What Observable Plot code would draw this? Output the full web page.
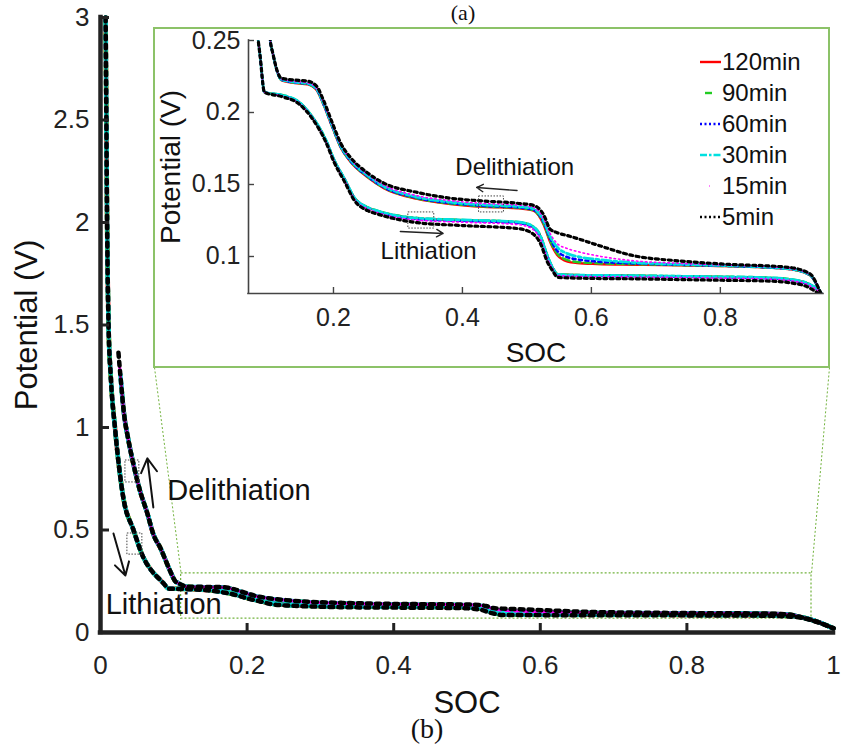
<!DOCTYPE html>
<html>
<head>
<meta charset="utf-8">
<script src="https://cdn.jsdelivr.net/npm/d3@7"></script>
<script src="https://cdn.jsdelivr.net/npm/@observablehq/plot@0.6"></script>
<style>
  body { margin: 0; background: #fff; }
  #fig { position: relative; width: 841px; height: 756px; overflow: hidden; background: #fff;
         font-family: "Liberation Sans", Arial, sans-serif; color: #111; }
  #main { position: absolute; left: 0; top: 0; }
  #inset { position: absolute; left: 153px; top: 27px; width: 677px; height: 341px; box-sizing: border-box;
           border: 2px solid #8cc268; background: #fff; }
  #insetPlot { position: absolute; left: 0; top: 0; }
  #legend { position: absolute; left: 545px; top: 17px; font-size: 24px; line-height: 31px; }
  .lg { display: flex; align-items: center; height: 31px; }
  .lg svg { width: 21px; height: 10px; margin-right: 1px; }
  .cap { position: absolute; font-family: "Liberation Serif", "Times New Roman", serif;
         line-height: 1; transform: translateX(-50%); white-space: nowrap; }
</style>
</head>
<body>
<div id="fig">
  <div class="cap" style="left:463px; top:2px; font-size:22px;">(a)</div>
  <div id="main"></div>
  <div id="inset"><div id="insetPlot"></div><div id="legend"></div></div>
  <div class="cap" style="left:427px; top:715px; font-size:28px;">(b)</div>
</div>
<script>
// ---------------- data ----------------
const seriesNames = ["120min", "90min", "60min", "30min", "15min", "5min"];
const seriesColors = ["#ff0000", "#22cc22", "#0000ff", "#00e0e0", "#ff00ff", "#000000"];

// Lithiation branch (potential falling with SOC)
const lithSOC = [0.007, 0.008, 0.009, 0.011, 0.014, 0.020, 0.031, 0.045, 0.058, 0.070, 0.080, 0.086, 0.093, 0.120, 0.147, 0.167, 0.188, 0.201, 0.218, 0.232, 0.253, 0.268, 0.330, 0.400, 0.485, 0.505, 0.521, 0.532, 0.540, 0.548, 0.598, 0.666, 0.734, 0.803, 0.871, 0.912, 0.939, 0.956, 0.980, 1.000];
const lith120 = [3.00, 2.50, 2.00, 1.50, 1.25, 0.99, 0.66, 0.50, 0.37, 0.30, 0.262, 0.240, 0.214, 0.2120, 0.2070, 0.1970, 0.1810, 0.1670, 0.1530, 0.1410, 0.1340, 0.1315, 0.1265, 0.1252, 0.1238, 0.1218, 0.1140, 0.1000, 0.0920, 0.0875, 0.0868, 0.0866, 0.0862, 0.0858, 0.0852, 0.0838, 0.0805, 0.0745, 0.050, 0.020];
const lith90  = [3.00, 2.50, 2.00, 1.50, 1.25, 0.99, 0.66, 0.50, 0.37, 0.30, 0.262, 0.240, 0.214, 0.2122, 0.2072, 0.1972, 0.1812, 0.1672, 0.1532, 0.1412, 0.1342, 0.1318, 0.1268, 0.1254, 0.1240, 0.1220, 0.1145, 0.1005, 0.0922, 0.0877, 0.0870, 0.0868, 0.0864, 0.0860, 0.0854, 0.0840, 0.0806, 0.0745, 0.050, 0.020];
const lith60  = [3.00, 2.50, 2.00, 1.50, 1.25, 0.99, 0.66, 0.50, 0.37, 0.30, 0.262, 0.240, 0.214, 0.2118, 0.2068, 0.1968, 0.1808, 0.1668, 0.1528, 0.1408, 0.1338, 0.1312, 0.1260, 0.1248, 0.1234, 0.1212, 0.1132, 0.0995, 0.0918, 0.0872, 0.0865, 0.0863, 0.0859, 0.0855, 0.0849, 0.0834, 0.0802, 0.0745, 0.050, 0.020];
const lith30  = [3.00, 2.50, 2.00, 1.50, 1.25, 0.99, 0.66, 0.50, 0.37, 0.30, 0.262, 0.240, 0.214, 0.2121, 0.2071, 0.1971, 0.1811, 0.1671, 0.1531, 0.1411, 0.1341, 0.1317, 0.1266, 0.1254, 0.1240, 0.1220, 0.1142, 0.1002, 0.0921, 0.0876, 0.0869, 0.0867, 0.0863, 0.0859, 0.0853, 0.0839, 0.0806, 0.0745, 0.050, 0.020];
const lith15  = [3.00, 2.50, 2.00, 1.50, 1.25, 0.99, 0.66, 0.50, 0.37, 0.30, 0.262, 0.240, 0.214, 0.2115, 0.2063, 0.1963, 0.1802, 0.1662, 0.1522, 0.1402, 0.1330, 0.1305, 0.1252, 0.1238, 0.1222, 0.1200, 0.1120, 0.0985, 0.0912, 0.0868, 0.0860, 0.0858, 0.0854, 0.0850, 0.0844, 0.0830, 0.0797, 0.0740, 0.049, 0.020];
const lith5   = [3.00, 2.50, 2.00, 1.50, 1.25, 0.99, 0.66, 0.50, 0.37, 0.30, 0.262, 0.240, 0.214, 0.2110, 0.2058, 0.1958, 0.1796, 0.1655, 0.1513, 0.1392, 0.1318, 0.1295, 0.1235, 0.1215, 0.1194, 0.1170, 0.1090, 0.0960, 0.0900, 0.0855, 0.0848, 0.0845, 0.0840, 0.0835, 0.0830, 0.0815, 0.0780, 0.0720, 0.048, 0.020];

// Delithiation branch (upper curve)
const delithSOC = [0.0245, 0.026, 0.027, 0.028, 0.029, 0.030, 0.032, 0.038, 0.045, 0.054, 0.064, 0.072, 0.082, 0.095, 0.102, 0.106, 0.113, 0.119, 0.140, 0.160, 0.174, 0.184, 0.198, 0.212, 0.226, 0.253, 0.278, 0.330, 0.381, 0.433, 0.485, 0.510, 0.526, 0.536, 0.547, 0.563, 0.578, 0.609, 0.666, 0.734, 0.803, 0.905, 0.939, 0.956, 0.980, 1.000];
const delith120 = [null, null, null, null, null, 1.14, 1.07, 0.94, 0.82, 0.69, 0.58, 0.48, 0.41, 0.30, 0.250, 0.241, 0.228, 0.2225, 0.2205, 0.2195, 0.2155, 0.2060, 0.1900, 0.1750, 0.1660, 0.1550, 0.1475, 0.1400, 0.1365, 0.1345, 0.1335, 0.1318, 0.1220, 0.1100, 0.1010, 0.0965, 0.0955, 0.0948, 0.0943, 0.0938, 0.0933, 0.0913, 0.0870, 0.0745, 0.050, 0.020];
const delith90  = [null, null, null, null, 1.18, 1.14, 1.07, 0.94, 0.82, 0.69, 0.58, 0.48, 0.41, 0.30, 0.250, 0.241, 0.228, 0.2227, 0.2207, 0.2197, 0.2157, 0.2063, 0.1903, 0.1753, 0.1663, 0.1553, 0.1478, 0.1403, 0.1368, 0.1348, 0.1338, 0.1321, 0.1228, 0.1110, 0.1020, 0.0975, 0.0962, 0.0953, 0.0947, 0.0940, 0.0934, 0.0914, 0.0870, 0.0745, 0.050, 0.020];
const delith60  = [null, null, null, 1.22, 1.18, 1.14, 1.07, 0.94, 0.82, 0.69, 0.58, 0.48, 0.41, 0.30, 0.250, 0.241, 0.228, 0.2228, 0.2209, 0.2199, 0.2160, 0.2066, 0.1906, 0.1756, 0.1666, 0.1557, 0.1482, 0.1407, 0.1372, 0.1352, 0.1342, 0.1325, 0.1238, 0.1125, 0.1040, 0.0995, 0.0980, 0.0965, 0.0952, 0.0943, 0.0936, 0.0915, 0.0871, 0.0745, 0.050, 0.020];
const delith30  = [null, null, 1.26, 1.22, 1.18, 1.14, 1.07, 0.94, 0.82, 0.69, 0.58, 0.48, 0.41, 0.30, 0.250, 0.241, 0.228, 0.2230, 0.2211, 0.2202, 0.2163, 0.2070, 0.1911, 0.1762, 0.1672, 0.1563, 0.1488, 0.1413, 0.1378, 0.1358, 0.1348, 0.1332, 0.1250, 0.1140, 0.1065, 0.1020, 0.1000, 0.0980, 0.0958, 0.0946, 0.0938, 0.0916, 0.0872, 0.0745, 0.050, 0.020];
const delith15  = [null, 1.30, 1.26, 1.22, 1.18, 1.14, 1.07, 0.94, 0.82, 0.69, 0.58, 0.48, 0.41, 0.30, 0.250, 0.241, 0.228, 0.2233, 0.2215, 0.2206, 0.2168, 0.2076, 0.1918, 0.1770, 0.1680, 0.1570, 0.1496, 0.1422, 0.1388, 0.1368, 0.1358, 0.1342, 0.1265, 0.1160, 0.1090, 0.1055, 0.1035, 0.1005, 0.0970, 0.0953, 0.0941, 0.0919, 0.0874, 0.0745, 0.050, 0.020];
const delith5   = [1.365, 1.30, 1.26, 1.22, 1.18, 1.14, 1.07, 0.94, 0.82, 0.69, 0.58, 0.48, 0.41, 0.30, 0.250, 0.241, 0.2285, 0.2238, 0.2225, 0.2218, 0.2182, 0.2090, 0.1930, 0.1780, 0.1690, 0.1580, 0.1510, 0.1445, 0.1405, 0.1385, 0.1370, 0.1355, 0.1290, 0.1190, 0.1165, 0.1145, 0.1125, 0.1080, 0.1005, 0.0970, 0.0948, 0.0925, 0.0880, 0.0745, 0.050, 0.020];

const lithV = [lith120, lith90, lith60, lith30, lith15, lith5];
const delithV = [delith120, delith90, delith60, delith30, delith15, delith5];

// axes
const mainXTicks = [0, 0.2, 0.4, 0.6, 0.8, 1];
const mainXTickLabels = ["0", "0.2", "0.4", "0.6", "0.8", "1"];
const mainYTicks = [0, 0.5, 1, 1.5, 2, 2.5, 3];
const mainYTickLabels = ["0", "0.5", "1", "1.5", "2", "2.5", "3"];
const insetXTicks = [0.2, 0.4, 0.6, 0.8];
const insetXTickLabels = ["0.2", "0.4", "0.6", "0.8"];
const insetYTicks = [0.1, 0.15, 0.2, 0.25];
const insetYTickLabels = ["0.1", "0.15", "0.2", "0.25"];
const xTitle = "SOC";
const yTitle = "Potential (V)";

// annotations (data coordinates)
const mainNotes = [
  {text: "Delithiation", soc: 0.091, v: 0.693},
  {text: "Lithiation", soc: 0.007, v: 0.137}
];
const mainArrows = [
  {x1: 0.0721, y1: 0.610, x2: 0.0639, y2: 0.849},
  {x1: 0.0177, y1: 0.483, x2: 0.0340, y2: 0.278}
];
const mainBoxes = [
  {x1: 0.034, x2: 0.053, y1: 0.732, y2: 0.839},
  {x1: 0.0367, x2: 0.0571, y1: 0.380, y2: 0.483}
];
const zoomBox = {x1: 0.11, x2: 0.97, y1: 0.068, y2: 0.288};
const insetNotes = [
  {text: "Delithiation", soc: 0.389, v: 0.1618},
  {text: "Lithiation", soc: 0.273, v: 0.1035}
];
const insetArrows = [
  {x1: 0.4847, y1: 0.1458, x2: 0.422, y2: 0.1479},
  {x1: 0.3037, y1: 0.1174, x2: 0.370, y2: 0.1160}
];
const insetBoxes = [
  {x1: 0.4257, x2: 0.4644, y1: 0.1306, y2: 0.1417},
  {x1: 0.3161, x2: 0.3563, y1: 0.1194, y2: 0.1306}
];

// ---------------- build rows ----------------
const rows = [];
seriesNames.forEach((name, i) => {
  lithSOC.forEach((s, j) => { if (lithV[i][j] != null) rows.push({series: name, branch: "lith", soc: s, v: lithV[i][j]}); });
  delithSOC.forEach((s, j) => { if (delithV[i][j] != null) rows.push({series: name, branch: "delith", soc: s, v: delithV[i][j]}); });
});

const FONT = '"Liberation Sans", Arial, sans-serif';
const AX = "#222";

// ---------------- main plot ----------------
const M = {w: 841, h: 705, l: 100, r: 8, t: 17, b: 73};
const mainXScale = d3.scaleLinear([0, 1], [M.l, M.w - M.r]);
const mainYScale = d3.scaleLinear([0, 3], [M.h - M.b, M.t]);
// inset frame corners (page pixels) -> main data coordinates, for the zoom connectors
const insetLeftPx = 154, insetRightPx = 829, insetBottomPx = 367;
const connectors = [
  {x1: mainXScale.invert(insetLeftPx), y1: mainYScale.invert(insetBottomPx), x2: zoomBox.x1, y2: zoomBox.y2},
  {x1: mainXScale.invert(insetRightPx), y1: mainYScale.invert(insetBottomPx), x2: zoomBox.x2, y2: zoomBox.y2}
];

// draw order: 120 (bottom) ... 5 (top); blue/magenta dots share the black phase so gaps show red / cyan
const mainStyles = [
  {w: 4.5, dash: null},
  {w: 4.5, dash: "10,6"},
  {w: 4, dash: "4,5"},
  {w: 4.5, dash: "14,4"},
  {w: 3, dash: "4,5"},
  {w: 4.5, dash: "4,5"}
];

const mainLines = seriesNames.map((name, i) => Plot.line(rows.filter(d => d.series === name), {
  x: "soc", y: "v", z: "branch", stroke: seriesColors[i], strokeWidth: mainStyles[i].w,
  strokeDasharray: mainStyles[i].dash, curve: "monotone-x"
}));

const mainPlot = Plot.plot({
  width: M.w, height: M.h,
  marginLeft: M.l, marginRight: M.r, marginTop: M.t, marginBottom: M.b,
  x: {domain: [0, 1]},
  y: {domain: [0, 3]},
  style: {fontFamily: FONT, fontSize: "26px", color: AX, background: "transparent", overflow: "visible"},
  marks: [
    Plot.rect([zoomBox], {x1: "x1", x2: "x2", y1: "y1", y2: "y2", fill: "none", stroke: "#72b33e", strokeWidth: 1.2, strokeDasharray: "2,2"}),
    Plot.link(connectors, {x1: "x1", y1: "y1", x2: "x2", y2: "y2", stroke: "#72b33e", strokeWidth: 1, strokeDasharray: "2,2"}),
    ...mainLines,
    Plot.rect(mainBoxes, {x1: "x1", x2: "x2", y1: "y1", y2: "y2", fill: "none", stroke: "#444", strokeWidth: 1, strokeDasharray: "1.5,1.5"}),
    Plot.arrow(mainArrows, {x1: "x1", y1: "y1", x2: "x2", y2: "y2", stroke: "#111", strokeWidth: 2, headLength: 12}),
    Plot.text(mainNotes, {x: "soc", y: "v", text: "text", textAnchor: "start", fontSize: 29, fill: "#111"}),
    Plot.ruleX([0], {stroke: AX, strokeWidth: 4.5, strokeLinecap: "square"}),
    Plot.ruleY([0], {stroke: AX, strokeWidth: 4.5, strokeLinecap: "square"}),
    Plot.tickX(mainXTicks.slice(1, -1), {x: d => d, stroke: AX, strokeWidth: 3, insetTop: (M.h - M.b - M.t) - 9}),
    Plot.tickY(mainYTicks.slice(1), {y: d => d, stroke: AX, strokeWidth: 3, insetRight: (M.w - M.r - M.l) - 9}),
    Plot.axisX({ticks: mainXTicks, tickSize: 0, tickPadding: 23, label: null,
      tickFormat: d => mainXTickLabels[mainXTicks.indexOf(d)]}),
    Plot.axisY({ticks: mainYTicks, tickSize: 0, tickPadding: 11, label: null,
      tickFormat: d => mainYTickLabels[mainYTicks.indexOf(d)]}),
    Plot.text([xTitle], {frameAnchor: "bottom", lineAnchor: "middle", textAnchor: "middle", dy: 71, text: d => d, fontSize: 31, fill: "#111"}),
    Plot.text([yTitle], {frameAnchor: "left", lineAnchor: "middle", textAnchor: "middle", dx: -73, rotate: -90, text: d => d, fontSize: 31, fill: "#111"})
  ]
});
document.getElementById("main").appendChild(mainPlot);

// ---------------- inset plot ----------------
const I = {w: 673, h: 337, l: 93, r: 5, t: 11, b: 73};
const insetStyles = [
  {w: 2.4, dash: null},
  {w: 2.4, dash: "7,4"},
  {w: 2.6, dash: "3,3.5"},
  {w: 2.8, dash: "9,3,3,3"},
  {w: 1.6, dash: "1.5,3"},
  {w: 3.2, dash: "3,3.5"}
];
const insetLines = seriesNames.map((name, i) => Plot.line(rows.filter(d => d.series === name && d.soc > 0.05), {
  x: "soc", y: "v", z: "branch", stroke: seriesColors[i], strokeWidth: insetStyles[i].w,
  strokeDasharray: insetStyles[i].dash, curve: "monotone-x", clip: true
}));

const insetPlot = Plot.plot({
  width: I.w, height: I.h,
  marginLeft: I.l, marginRight: I.r, marginTop: I.t, marginBottom: I.b,
  x: {domain: [0.0682, 0.96]},
  y: {domain: [0.0743, 0.25]},
  style: {fontFamily: FONT, fontSize: "25px", color: "#222", background: "transparent", overflow: "visible"},
  marks: [
    ...insetLines,
    Plot.rect(insetBoxes, {x1: "x1", x2: "x2", y1: "y1", y2: "y2", fill: "none", stroke: "#444", strokeWidth: 1, strokeDasharray: "1.5,1.5"}),
    Plot.arrow(insetArrows, {x1: "x1", y1: "y1", x2: "x2", y2: "y2", stroke: "#222", strokeWidth: 1.4, headLength: 8}),
    Plot.text(insetNotes, {x: "soc", y: "v", text: "text", textAnchor: "start", fontSize: 24, fill: "#111"}),
    Plot.ruleX([0.0682], {stroke: "#444", strokeWidth: 1.6, strokeLinecap: "square"}),
    Plot.ruleY([0.0743], {stroke: "#444", strokeWidth: 1.6, strokeLinecap: "square"}),
    Plot.tickX(insetXTicks, {x: d => d, stroke: "#444", strokeWidth: 1.4, insetTop: (I.h - I.b - I.t) - 6}),
    Plot.tickY(insetYTicks, {y: d => d, stroke: "#444", strokeWidth: 1.4, insetRight: (I.w - I.r - I.l) - 6}),
    Plot.axisX({ticks: insetXTicks, tickSize: 0, tickPadding: 15, label: null,
      tickFormat: d => insetXTickLabels[insetXTicks.indexOf(d)]}),
    Plot.axisY({ticks: insetYTicks, tickSize: 0, tickPadding: 8, label: null,
      tickFormat: d => insetYTickLabels[insetYTicks.indexOf(d)]}),
    Plot.text([xTitle], {frameAnchor: "bottom", lineAnchor: "middle", textAnchor: "middle", dy: 60, text: d => d, fontSize: 28, fill: "#111"}),
    Plot.text([yTitle], {frameAnchor: "left", lineAnchor: "middle", textAnchor: "middle", dx: -77, rotate: -90, text: d => d, fontSize: 28, fill: "#111"})
  ]
});
document.getElementById("insetPlot").appendChild(insetPlot);

// ---------------- legend ----------------
const legendDash = [null, "7,30", "2,2.5", "7,2,2.5,2", "1,20", "2,2.5"];
const legendX = [[0, 21], [5, 13], [0, 21], [0, 21], [9, 11], [0, 21]];
const legend = document.getElementById("legend");
seriesNames.forEach((name, i) => {
  const row = document.createElement("div");
  row.className = "lg";
  const dash = legendDash[i] ? ` stroke-dasharray="${legendDash[i]}"` : "";
  const w = i === 4 ? 1 : 2.4;
  row.innerHTML = `<svg viewBox="0 0 21 10"><line x1="${legendX[i][0]}" x2="${legendX[i][1]}" y1="5" y2="5" stroke="${seriesColors[i]}" stroke-width="${w}"${dash}/></svg><span>${name}</span>`;
  legend.appendChild(row);
});
</script>
</body>
</html>
